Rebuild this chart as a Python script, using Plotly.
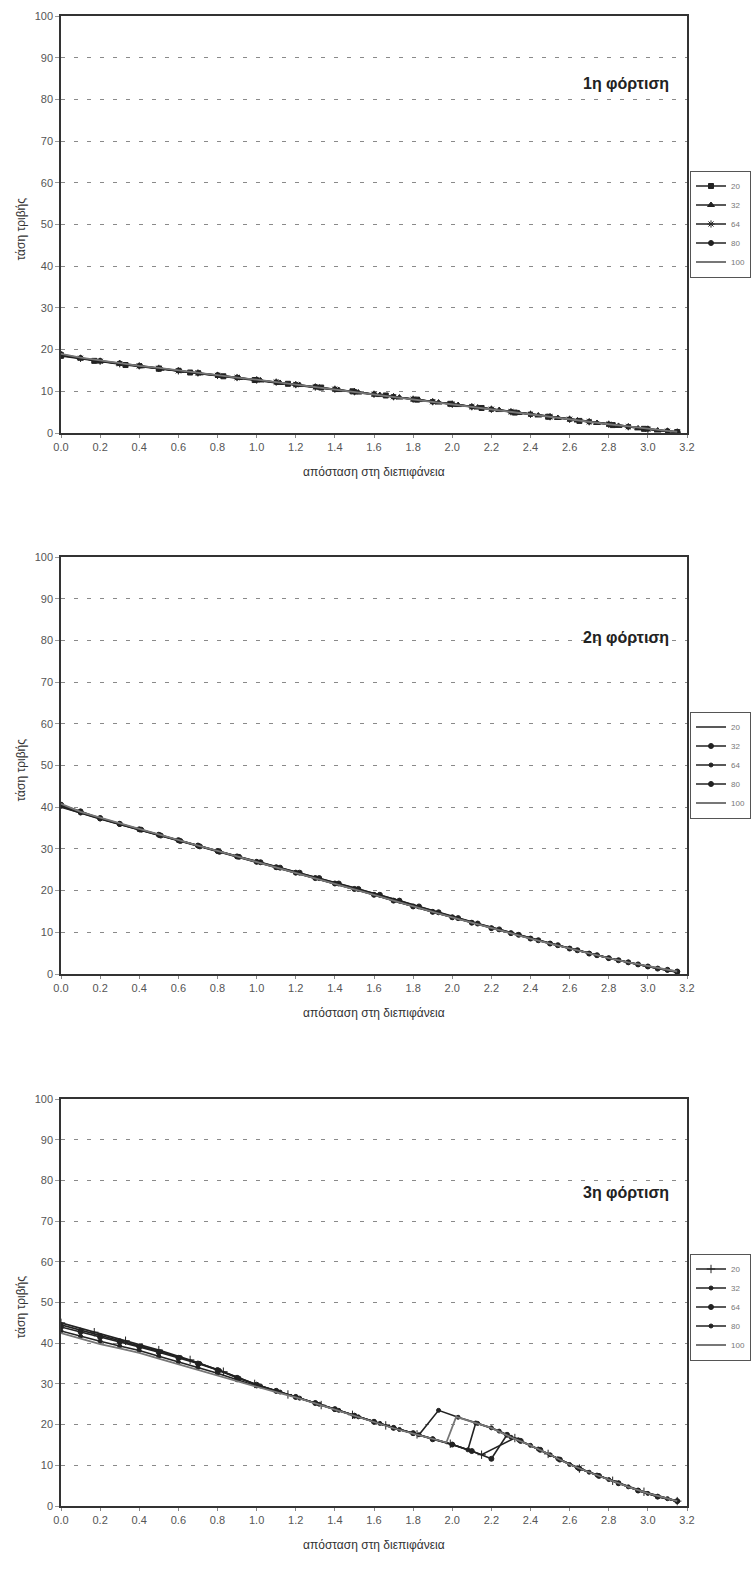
import plotly.graph_objects as go
from plotly.subplots import make_subplots

SERIES = ["20", "32", "64", "80", "100"]
TITLES = ["1η φόρτιση", "2η φόρτιση", "3η φόρτιση"]
X_TITLE = "απόσταση στη διεπιφάνεια"
Y_TITLE = "τάση τριβής"
X_TICKS = [0.0, 0.2, 0.4, 0.6, 0.8, 1.0, 1.2, 1.4, 1.6, 1.8, 2.0, 2.2, 2.4, 2.6, 2.8, 3.0, 3.2]

X20 = [0.0, 0.17, 0.33, 0.50, 0.66, 0.83, 0.99, 1.16, 1.33, 1.49, 1.66, 1.82, 1.99, 2.15,
       2.32, 2.49, 2.65, 2.82, 2.98, 3.15]
X32 = [0.0, 0.10, 0.20, 0.30, 0.41, 0.51, 0.61, 0.71, 0.81, 0.91, 1.02, 1.12, 1.22, 1.32,
       1.42, 1.52, 1.63, 1.73, 1.83, 1.93, 2.03, 2.13, 2.24, 2.34, 2.44, 2.54, 2.64, 2.74,
       2.85, 2.95, 3.05, 3.15]
X10 = [0.0, 0.1, 0.2, 0.3, 0.4, 0.5, 0.6, 0.7, 0.8, 0.9, 1.0, 1.1, 1.2, 1.3, 1.4, 1.5, 1.6,
       1.7, 1.8, 1.9, 2.0, 2.1, 2.2, 2.3, 2.4, 2.5, 2.6, 2.7, 2.8, 2.9, 3.0, 3.1, 3.15]

# ---- 1η φόρτιση
C1_20 = [18.5, 17.3, 16.3, 15.4, 14.5, 13.6, 12.7, 11.8, 10.9, 10.0, 9.0, 8.0, 7.0, 6.0, 4.9,
         3.9, 2.9, 1.9, 1.0, 0.2]
C1_32 = [18.6, 17.9, 17.2, 16.6, 16.0, 15.4, 14.9, 14.3, 13.7, 13.2, 12.6, 12.0, 11.5, 10.9,
         10.3, 9.7, 9.1, 8.5, 7.9, 7.3, 6.7, 6.1, 5.5, 4.8, 4.2, 3.6, 3.0, 2.4, 1.7, 1.1, 0.6, 0.2]
C1_64 = [18.7, 17.9, 17.2, 16.6, 16.1, 15.5, 14.9, 14.4, 13.8, 13.3, 12.7, 12.2, 11.6, 11.0,
         10.5, 9.9, 9.3, 8.7, 8.1, 7.5, 6.9, 6.3, 5.7, 5.1, 4.5, 3.9, 3.3, 2.7, 2.1, 1.5, 0.9,
         0.4, 0.2]
C1_80 = [18.9, 18.0, 17.3, 16.7, 16.1, 15.5, 15.0, 14.4, 13.9, 13.3, 12.8, 12.2, 11.6, 11.1,
         10.5, 9.9, 9.3, 8.7, 8.1, 7.5, 6.9, 6.3, 5.7, 5.1, 4.5, 3.9, 3.3, 2.7, 2.1, 1.5, 1.0,
         0.5, 0.3]
C1_100 = [19.0, 18.1, 17.4, 16.7, 16.1, 15.6, 15.0, 14.4, 13.9, 13.3, 12.8, 12.2, 11.7, 11.1,
          10.5, 9.9, 9.3, 8.7, 8.1, 7.5, 6.9, 6.3, 5.7, 5.1, 4.5, 3.9, 3.3, 2.7, 2.1, 1.6, 1.0,
          0.5, 0.3]

# ---- 2η φόρτιση
C2_20 = [40.0, 37.6, 35.5, 33.3, 31.3, 29.1, 27.1, 25.0, 22.9, 20.8, 18.5, 16.2, 13.9, 11.8,
         9.6, 7.5, 5.6, 3.6, 2.0, 0.4]
C2_32 = [40.5, 39.0, 37.3, 36.0, 34.6, 33.2, 31.9, 30.6, 29.3, 28.1, 26.8, 25.5, 24.3, 23.0,
         21.7, 20.4, 19.0, 17.6, 16.2, 14.8, 13.4, 12.1, 10.7, 9.4, 8.1, 6.9, 5.7, 4.5, 3.3,
         2.3, 1.3, 0.5]
C2_64 = [40.2, 38.6, 37.2, 35.9, 34.6, 33.3, 32.0, 30.7, 29.4, 28.1, 26.9, 25.6, 24.3, 23.0,
         21.7, 20.4, 19.0, 17.6, 16.2, 14.9, 13.6, 12.3, 11.0, 9.8, 8.5, 7.3, 6.1, 4.9, 3.8,
         2.8, 1.8, 0.9, 0.5]
C2_80 = [40.6, 38.8, 37.4, 36.0, 34.7, 33.4, 32.1, 30.8, 29.5, 28.2, 26.9, 25.6, 24.3, 23.0,
         21.7, 20.4, 19.0, 17.6, 16.2, 14.9, 13.6, 12.3, 11.0, 9.8, 8.5, 7.3, 6.1, 4.9, 3.8,
         2.8, 1.8, 1.0, 0.6]
C2_100 = [40.8, 38.9, 37.5, 36.1, 34.8, 33.5, 32.1, 30.8, 29.5, 28.2, 26.9, 25.6, 24.3, 23.0,
          21.7, 20.4, 19.0, 17.6, 16.2, 14.9, 13.6, 12.3, 11.0, 9.8, 8.5, 7.3, 6.1, 4.9, 3.8,
          2.8, 1.9, 1.0, 0.6]

# ---- 3η φόρτιση
C3_20 = [45.0, 42.7, 40.6, 38.3, 35.9, 33.0, 30.0, 27.4, 24.8, 22.4, 19.8, 17.6, 15.3, 12.6,
         16.7, 12.8, 9.2, 6.2, 3.5, 1.2]
C3_32 = [44.5, 43.2, 41.9, 40.6, 39.3, 37.9, 36.5, 35.0, 33.3, 31.4, 29.5, 28.0, 26.5, 25.0,
         23.5, 21.9, 20.3, 18.8, 17.5, 23.5, 21.8, 20.3, 18.4, 16.2, 14.0, 11.6, 9.4, 7.6, 5.6,
         3.8, 2.3, 1.2]
X3_64 = [0.0, 0.1, 0.2, 0.3, 0.4, 0.5, 0.6, 0.7, 0.8, 0.9, 1.0, 1.1, 1.2, 1.3, 1.4, 1.5, 1.6,
         1.7, 1.8, 1.9, 2.0, 2.1, 2.2, 2.28, 2.35, 2.45, 2.55, 2.65, 2.75, 2.85, 2.95, 3.05, 3.15]
C3_64 = [44.0, 42.8, 41.5, 40.3, 39.1, 37.8, 36.4, 35.0, 33.4, 31.5, 29.8, 28.3, 26.8, 25.3,
         23.8, 22.2, 20.7, 19.2, 17.9, 16.4, 15.1, 13.5, 11.6, 17.5, 16.0, 13.8, 11.4, 9.2, 7.4,
         5.6, 3.8, 2.3, 1.2]
X3_80 = [0.0, 0.1, 0.2, 0.3, 0.4, 0.5, 0.6, 0.7, 0.8, 0.9, 1.0, 1.1, 1.2, 1.3, 1.4, 1.5, 1.6,
         1.7, 1.8, 1.9, 2.0, 2.08, 2.12, 2.2, 2.3, 2.4, 2.5, 2.6, 2.7, 2.8, 2.9, 3.0, 3.1, 3.15]
C3_80 = [43.0, 41.7, 40.5, 39.3, 38.2, 36.8, 35.4, 34.0, 32.6, 31.0, 29.5, 28.2, 26.8, 25.3,
         23.8, 22.2, 20.7, 19.2, 17.9, 16.5, 15.1, 13.8, 20.4, 19.2, 16.9, 14.9, 12.6, 10.2,
         8.3, 6.5, 4.7, 3.1, 1.8, 1.2]
X3_100 = [0.0, 0.1, 0.2, 0.3, 0.4, 0.5, 0.6, 0.7, 0.8, 0.9, 1.0, 1.1, 1.2, 1.3, 1.4, 1.5, 1.6,
          1.7, 1.8, 1.9, 1.97, 2.02, 2.1, 2.2, 2.3, 2.4, 2.5, 2.6, 2.7, 2.8, 2.9, 3.0, 3.1, 3.15]
C3_100 = [42.5, 41.1, 39.8, 38.7, 37.6, 36.2, 34.8, 33.4, 32.0, 30.6, 29.3, 28.0, 26.7, 25.2,
          23.7, 22.1, 20.6, 19.1, 17.8, 16.5, 15.6, 21.9, 20.7, 19.2, 16.9, 14.9, 12.6, 10.2,
          8.3, 6.5, 4.7, 3.1, 1.8, 1.2]

CHARTS = [
    [(X20, C1_20), (X32, C1_32), (X10, C1_64), (X10, C1_80), (X10, C1_100)],
    [(X20, C2_20), (X32, C2_32), (X10, C2_64), (X10, C2_80), (X10, C2_100)],
    [(X20, C3_20), (X32, C3_32), (X3_64, C3_64), (X3_80, C3_80), (X3_100, C3_100)],
]

MARKERS = [
    ["square", "triangle-up", "asterisk-open", "circle", None],
    [None, "circle", "circle", "circle", None],
    ["cross-thin-open", "circle", "circle", "circle", None],
]
MSIZE = [[5, 6, 6, 5, 0], [0, 5, 4, 5, 0], [6, 4, 5, 4, 0]]

# the page body margin is removed (post_script), so figure px == window px
W, H = 752, 1569


def fx(px):
    return px / W


def fy(py):
    return 1 - py / H


# layout in window pixel coordinates
PX_L, PX_R = 61, 687
TOPS = [16, 557, 1099]
BOTS = [433, 974, 1506]
TITLE_Y = [84, 638, 1192]

FONT = "Liberation Sans, Arial, sans-serif"
DARK = "#222222"

fig = make_subplots(rows=3, cols=1)

for r in range(3):
    legname = "legend" if r == 0 else f"legend{r + 1}"
    for i, name in enumerate(SERIES):
        xs, ys = CHARTS[r][i]
        m = MARKERS[r][i]
        color = "#777777" if name == "100" else DARK
        tr = go.Scatter(
            x=xs, y=ys, name=name,
            mode="lines+markers" if m else "lines",
            line=dict(color=color, width=1.6 if name != "100" else 1.8),
            legend=legname,
        )
        if m:
            tr.marker = dict(symbol=m, size=MSIZE[r][i], color=DARK,
                             line=dict(color=DARK, width=1))
        fig.add_trace(tr, row=r + 1, col=1)

for r in range(3):
    xa = "xaxis" if r == 0 else f"xaxis{r + 1}"
    ya = "yaxis" if r == 0 else f"yaxis{r + 1}"
    fig.layout[xa].update(
        domain=[fx(PX_L), fx(PX_R)], range=[0, 3.2], tickvals=X_TICKS,
        tickformat=".1f", showgrid=False, zeroline=False, automargin=False,
        showline=True, linecolor="#333", linewidth=1.5, mirror=True,
        ticks="outside", ticklen=3, tickcolor="#888",
        tickfont=dict(family=FONT, size=11, color="#555"),
    )
    fig.layout[ya].update(
        domain=[fy(BOTS[r]), fy(TOPS[r])], range=[0, 100], dtick=10,
        showgrid=True, gridcolor="#8a8a8a", gridwidth=1, griddash="4px,9px",
        zeroline=False, showline=True, linecolor="#333", linewidth=1.5, mirror=True,
        ticks="outside", ticklen=4, tickcolor="#999", automargin=False,
        tickfont=dict(family=FONT, size=11, color="#555"),
    )
    mid = (TOPS[r] + BOTS[r]) / 2
    fig.add_annotation(text="<b>" + TITLES[r] + "</b>", xref="paper", yref="paper",
                       x=fx(671), y=fy(TITLE_Y[r]), xanchor="right", yanchor="middle",
                       showarrow=False, font=dict(family=FONT, size=16, color="#222"))
    fig.add_annotation(text=X_TITLE, xref="paper", yref="paper",
                       x=fx((PX_L + PX_R) / 2), y=fy(BOTS[r] + 39),
                       xanchor="center", yanchor="middle", showarrow=False,
                       font=dict(family=FONT, size=12, color="#333"))
    fig.add_annotation(text=Y_TITLE, xref="paper", yref="paper",
                       x=fx(20), y=fy(mid + 5), textangle=-90,
                       xanchor="center", yanchor="middle", showarrow=False,
                       font=dict(family=FONT, size=12, color="#333"))
    legcfg = dict(x=fx(690), xanchor="left", y=fy(TOPS[r] + 208), yanchor="middle",
                  bordercolor="#555", borderwidth=1, bgcolor="white",
                  font=dict(family=FONT, size=8, color="#777"),
                  itemwidth=30, tracegroupgap=0)
    fig.layout["legend" if r == 0 else f"legend{r + 1}"] = legcfg

fig.update_layout(
    width=W, height=H, margin=dict(l=0, r=0, t=0, b=0, autoexpand=False),
    paper_bgcolor="white", plot_bgcolor="white", showlegend=True,
)

fig.write_html(
    "out.html",
    config={"displayModeBar": False},
    post_script="document.body.style.margin='0';document.body.style.overflow='hidden';",
)
